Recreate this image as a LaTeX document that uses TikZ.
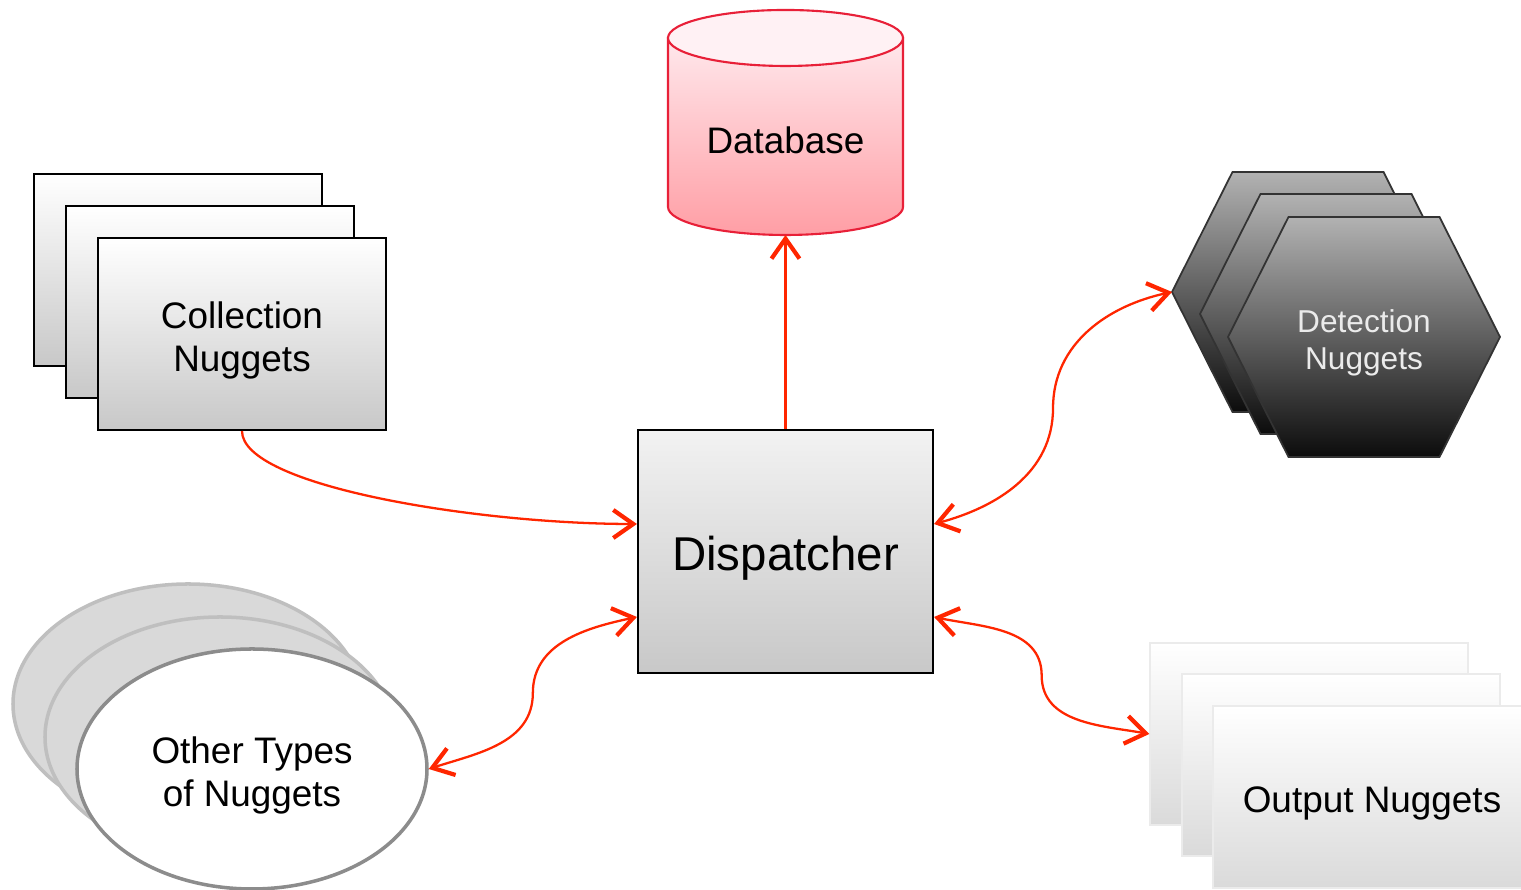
\documentclass[tikz,border=0pt]{standalone}
\usepackage{fontspec}
\setmainfont{Liberation Sans}
\usepackage{tikz}
\usetikzlibrary{arrows.meta,shapes.geometric,calc}
\definecolor{signalred}{RGB}{255, 38, 0}
\definecolor{rosetop}{RGB}{255, 232, 236}
\definecolor{rosebottom}{RGB}{255, 158, 165}
\definecolor{crimson}{RGB}{232, 32, 56}
\definecolor{silver}{RGB}{242, 242, 242}
\definecolor{ash}{RGB}{200, 200, 200}
\definecolor{paleash}{RGB}{218, 218, 218}
\definecolor{smoke}{RGB}{178, 178, 178}
\definecolor{coal}{RGB}{12, 12, 12}
\definecolor{mist}{RGB}{217, 217, 217}
\definecolor{pebble}{RGB}{191, 191, 191}
\definecolor{slate}{RGB}{140, 140, 140}

\begin{document}
\begin{tikzpicture}[
        >={Straight Barb[length=2mm, width=2.8mm, line width=1.2pt]},
        link/.style={draw=signalred, line width=0.65pt},
        caption/.style={align=center, inner sep=0pt, yshift=-1.8pt, font=\fontsize{10.5}{12.2}\selectfont},
        card/.style={draw=black, line width=0.6pt, top color=white, bottom color=ash,
                     minimum width=2.88cm, minimum height=1.92cm, inner sep=0pt},
        sheet/.style={draw=black!8, line width=0.4pt, top color=white, bottom color=paleash,
                      minimum width=3.18cm, minimum height=1.82cm, inner sep=0pt},
        blob/.style={ellipse, draw=pebble, fill=mist, line width=1pt,
                     minimum width=3.5cm, minimum height=2.4cm, inner sep=0pt},
        hexa/.style={top color=smoke, bottom color=coal, draw=black!80, line width=0.5pt},
        hub/.style={draw=black, line width=0.6pt, top color=silver, bottom color=ash,
                    minimum width=2.95cm, minimum height=2.43cm, inner sep=0pt}
    ]
            \useasboundingbox (0,0) rectangle (15.21,8.90);
            \clip             (0,0) rectangle (15.21,8.90);
            % database
            \shadedraw[top color=rosetop, bottom color=rosebottom, draw=crimson, line width=0.6pt]
                 (6.68,8.52) -- (6.68,6.83) arc[start angle=180, end angle=360, x radius=1.175cm, y radius=0.28cm]
                 -- (9.03,8.52) -- cycle;
            \filldraw[fill=rosetop!60!white, draw=crimson, line width=0.6pt](7.855,8.52) ellipse (1.175 and 0.28);
            \node[font=\fontsize{10.5}{12.2}\selectfont] (db) at (7.855,7.50) {Database};
            \coordinate (dbfoot) at (7.855,6.55);
            % collection nuggets
            \node[card] (coll3) at ( 1.78, 6.20) {};
            \node[card] (coll2) at ( 2.10, 5.88) {};
            \node[card, label={[caption]center:Collection\\Nuggets}] (coll) at ( 2.42, 5.56) {};
            % detection nuggets
            \shadedraw[hexa] (11.72,5.98) -- ++(0.605,1.20) -- ++(1.51,0) -- ++(0.605,-1.20) -- ++(-0.605,-1.20) -- ++(-1.51,0) -- cycle;
            \shadedraw[hexa] (12.00,5.76) -- ++(0.605,1.20) -- ++(1.51,0) -- ++(0.605,-1.20) -- ++(-0.605,-1.20) -- ++(-1.51,0) -- cycle;
            \shadedraw[hexa] (12.28,5.53) -- ++(0.605,1.20) -- ++(1.51,0) -- ++(0.605,-1.20) -- ++(-0.605,-1.20) -- ++(-1.51,0) -- cycle;
            \node[white!92!black, align=center, font=\fontsize{9}{10.6}\selectfont] (detect) at (13.64,5.47) {Detection\\Nuggets};
            \coordinate (detecttip) at (11.72,5.98);
            % other types of nuggets
            \node[blob] (other3) at ( 1.88, 1.86) {};
            \node[blob] (other2) at ( 2.20, 1.53) {};
            \node[blob, fill=white, draw=slate, label={[caption]center:Other Types\\of Nuggets}] (other) at ( 2.52, 1.21) {};
            % output nuggets
            \node[sheet] (out3) at (13.09, 1.56) {};
            \node[sheet] (out2) at (13.41, 1.25) {};
            \node[sheet, label={[caption]center:Output Nuggets}] (out) at (13.72, 0.93) {};
            % dispatcher
            \node[hub, label={[caption, font=\fontsize{13.5}{16}\selectfont]center:Dispatcher}] (disp) at (7.855,3.385) {};
            \coordinate (dispne) at ([yshift= 2.75mm]disp.east);
            \coordinate (dispse) at ([yshift=-6.55mm]disp.east);
            \coordinate (dispnw) at ([yshift= 2.75mm]disp.west);
            \coordinate (dispsw) at ([yshift=-6.55mm]disp.west);
            % connectors
            \draw[link, ->]  (disp.north) -- (dbfoot);
            \draw[link, ->]  (coll.south) to[out=-90, in=180, out looseness=0.35] (dispnw);
            \draw[link, <->] (dispne) to[out=15, in=-90] ($(dispne)!.5!(detecttip)$) to[out=90, in=192] (detecttip);
            \draw[link, <->] (dispsw) to[out=192, in=90] ($(dispsw)!.5!(other.east)$) to[out=-90, in=18] (other.east);
            \draw[link, <->] (dispse) to[out=-12, in=90] ($(dispse)!.5!(out3.west)$) to[out=-90, in=170] (out3.west);
        \end{tikzpicture}
\end{document}
